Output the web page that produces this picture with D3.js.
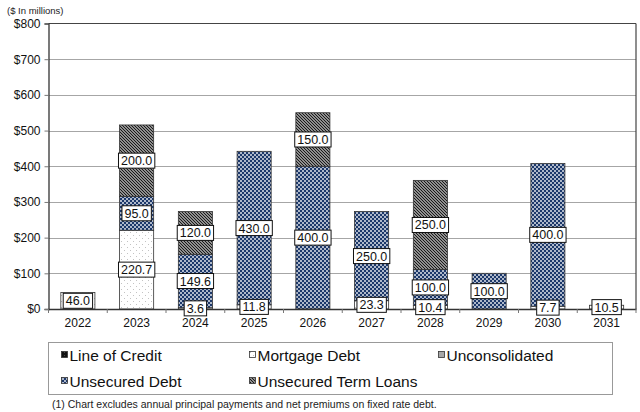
<!DOCTYPE html>
<html>
<head>
<meta charset="utf-8">
<script src="https://cdn.jsdelivr.net/npm/d3@7"></script>
<style>
  html, body { margin: 0; padding: 0; background: #fff; }
  svg { display: block; font-family: "Liberation Sans", Arial, sans-serif; }
</style>
</head>
<body>
<svg id="chart" width="640" height="412"></svg>
<script>
// ---- data ----
const years = ["2022","2023","2024","2025","2026","2027","2028","2029","2030","2031"];
const seriesNames = ["Line of Credit","Mortgage Debt","Unconsolidated","Unsecured Debt","Unsecured Term Loans"];
const lineOfCredit   = [0, 0, 0, 0, 0, 0, 0, 0, 0, 0];
const mortgageDebt   = [46.0, 220.7, 3.6, 11.8, 0, 23.3, 10.4, 0, 7.7, 10.5];
const unconsolidated = [0, 0, 0, 0, 0, 0, 0, 0, 0, 0];
const unsecuredDebt  = [0, 95.0, 149.6, 430.0, 400.0, 250.0, 100.0, 100.0, 400.0, 0];
const termLoans      = [0, 200.0, 120.0, 0, 150.0, 0, 250.0, 0, 0, 0];
const yTicks = [0, 100, 200, 300, 400, 500, 600, 700, 800];
const unitNote = "($ In millions)";
const footnote = "(1) Chart excludes annual principal payments and net premiums  on fixed rate debt.";

const seriesValues = [lineOfCredit, mortgageDebt, unconsolidated, unsecuredDebt, termLoans];
const fills = ["url(#pLoc)", "url(#pMort)", "url(#pUncon)", "url(#pUnsec)", "url(#pTerm)"];

const svg = d3.select("#chart");
const defs = svg.append("defs");

// patterns
const pLoc = defs.append("pattern").attr("id","pLoc").attr("patternUnits","userSpaceOnUse").attr("width",3).attr("height",3);
pLoc.append("rect").attr("width",3).attr("height",3).attr("fill","#111");
pLoc.append("rect").attr("x",1).attr("y",1).attr("width",0.8).attr("height",0.8).attr("fill","#666");

const pMort = defs.append("pattern").attr("id","pMort").attr("patternUnits","userSpaceOnUse").attr("width",6).attr("height",6);
pMort.append("rect").attr("width",6).attr("height",6).attr("fill","#fff");
pMort.append("rect").attr("x",1).attr("y",1).attr("width",0.9).attr("height",0.9).attr("fill","#b5b5b5");
pMort.append("rect").attr("x",4).attr("y",4).attr("width",0.9).attr("height",0.9).attr("fill","#b5b5b5");

const pUncon = defs.append("pattern").attr("id","pUncon").attr("patternUnits","userSpaceOnUse").attr("width",4).attr("height",4);
pUncon.append("rect").attr("width",4).attr("height",4).attr("fill","#a8a8a8");

const pUnsec = defs.append("pattern").attr("id","pUnsec").attr("patternUnits","userSpaceOnUse").attr("width",4).attr("height",4);
pUnsec.append("rect").attr("width",4).attr("height",4).attr("fill","#1c386a");
pUnsec.append("rect").attr("x",0.2).attr("y",0.2).attr("width",1.6).attr("height",1.6).attr("fill","#fff");
pUnsec.append("rect").attr("x",2.2).attr("y",2.2).attr("width",1.6).attr("height",1.6).attr("fill","#fff");

const pTerm = defs.append("pattern").attr("id","pTerm").attr("patternUnits","userSpaceOnUse").attr("width",3).attr("height",3);
pTerm.append("rect").attr("width",3).attr("height",3).attr("fill","#8f8f8f");
pTerm.append("path").attr("d","M0,0 L3,3 M-1,2 L1,4 M2,-1 L4,1").attr("stroke","#1a1a1a").attr("stroke-width",1);

// layout
const plot = { left: 48.5, right: 636, top: 23.5, bottom: 309 };

const x = d3.scaleBand().domain(years).range([plot.left, plot.right]).paddingInner(0.42).paddingOuter(0.21);
const xEdges = d3.scaleBand().domain(years).range([plot.left, plot.right]);
const y = d3.scaleLinear().domain([0, 800]).range([plot.bottom, plot.top]);

// gridlines
svg.append("g").selectAll("line").data(yTicks.filter(d => d > 0 && d < 800)).join("line")
  .attr("x1", plot.left).attr("x2", plot.right)
  .attr("y1", d => Math.round(y(d)) + 0.5).attr("y2", d => Math.round(y(d)) + 0.5)
  .attr("stroke", "#a6a6a6").attr("stroke-width", 1);

// stacked data
const table = years.map((yr, i) => {
  const o = { year: yr };
  seriesNames.forEach((s, k) => o[s] = seriesValues[k][i]);
  return o;
});
const stack = d3.stack().keys(seriesNames)(table);

const gBars = svg.append("g");
stack.forEach((layer, k) => {
  gBars.append("g").selectAll("rect")
    .data(layer.filter(d => d[1] - d[0] > 0))
    .join("rect")
    .attr("x", d => x(d.data.year))
    .attr("width", x.bandwidth())
    .attr("y", d => y(d[1]))
    .attr("height", d => y(d[0]) - y(d[1]))
    .attr("fill", fills[k])
    .attr("stroke", "#333")
    .attr("stroke-width", 0.8);
});

// frame: top, right
svg.append("line").attr("x1", plot.left).attr("x2", plot.right).attr("y1", plot.top).attr("y2", plot.top).attr("stroke", "#444").attr("stroke-width", 1.2);
svg.append("line").attr("x1", plot.right).attr("x2", plot.right).attr("y1", plot.top).attr("y2", plot.bottom).attr("stroke", "#444").attr("stroke-width", 1.2);

// y axis
const yAxis = d3.axisLeft(y).tickValues(yTicks).tickSize(4).tickPadding(4).tickFormat(d => "$" + d);
const gy = svg.append("g").attr("transform", `translate(${plot.left},0)`).call(yAxis);
gy.select(".domain").attr("stroke", "#333").attr("stroke-width", 1.3);
gy.selectAll(".tick line").attr("stroke", "#777");
gy.selectAll("text").attr("font-size", 12).attr("fill", "#111").attr("font-family", "Liberation Sans, Arial, sans-serif");

// x axis
const xAxis = d3.axisBottom(x).tickSize(0).tickPadding(9);
const gx = svg.append("g").attr("transform", `translate(0,${plot.bottom})`).call(xAxis);
gx.select(".domain").attr("stroke", "#333").attr("stroke-width", 1.3);
gx.selectAll("text").attr("font-size", 12).attr("fill", "#111").attr("font-family", "Liberation Sans, Arial, sans-serif");
// category separator ticks
svg.append("g").selectAll("line").data(years.concat(["end"])).join("line")
  .attr("x1", d => d === "end" ? plot.right : xEdges(d))
  .attr("x2", d => d === "end" ? plot.right : xEdges(d))
  .attr("y1", plot.bottom).attr("y2", plot.bottom + 4)
  .attr("stroke", "#777");

// value labels
const gLab = svg.append("g");
stack.forEach((layer) => {
  layer.filter(d => d[1] - d[0] > 0).forEach(d => {
    const v = d[1] - d[0];
    const cx = x(d.data.year) + x.bandwidth() / 2;
    const cy = y((d[0] + d[1]) / 2);
    const g = gLab.append("g");
    const t = g.append("text").attr("x", cx).attr("y", cy).attr("dy", "0.36em")
      .attr("text-anchor", "middle").attr("font-size", 12.5).attr("fill", "#111")
      .text(v.toFixed(1));
    const bb = t.node().getBBox();
    g.insert("rect", "text")
      .attr("x", bb.x - 2.5).attr("y", cy - 7.5)
      .attr("width", bb.width + 5).attr("height", 15)
      .attr("fill", "#fff").attr("stroke", "#111").attr("stroke-width", 1);
  });
});

// unit note
svg.append("text").attr("x", 7).attr("y", 14).attr("font-size", 9.5).attr("fill", "#222").text(unitNote);

// legend
const lg = svg.append("g");
lg.append("rect").attr("x", 48.5).attr("y", 342.5).attr("width", 564).attr("height", 52)
  .attr("fill", "#fff").attr("stroke", "#999").attr("stroke-width", 1);
const legendPos = [
  { x: 61, y: 355 }, { x: 249, y: 355 }, { x: 438, y: 355 },
  { x: 61, y: 381 }, { x: 249, y: 381 }
];
seriesNames.forEach((s, k) => {
  const p = legendPos[k];
  lg.append("rect").attr("x", p.x + 0.5).attr("y", p.y - 3.5).attr("width", 6).attr("height", 6)
    .attr("fill", fills[k]).attr("stroke", "#333").attr("stroke-width", 0.8);
  lg.append("text").attr("x", p.x + 8.5).attr("y", p.y).attr("dy", "0.36em")
    .attr("font-size", 15.5).attr("fill", "#111").text(s);
});

// footnote
svg.append("text").attr("x", 52).attr("y", 408).attr("font-size", 10.5).attr("fill", "#222").text(footnote);
</script>
</body>
</html>
